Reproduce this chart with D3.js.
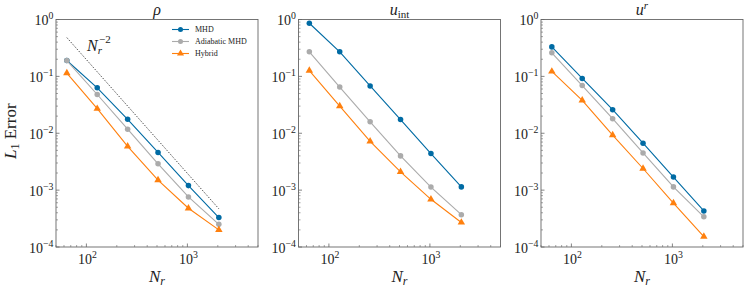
<!DOCTYPE html>
<html>
<head>
<meta charset="utf-8">
<script src="https://cdn.jsdelivr.net/npm/d3@7"></script>
<style>
  body { margin: 0; background: #fff; }
  text { font-family: "Liberation Serif", "DejaVu Serif", serif; fill: #222; }
</style>
</head>
<body>
<svg id="chart"></svg>
<script>
const W = 747, H = 289;

// resolution
const Nr = [64, 128, 256, 512, 1024, 2048];

// L1 errors, one array per panel and model
const rhoMHD   = [0.19, 0.063, 0.0176, 0.0046, 0.0012, 0.00033];
const rhoAdi   = [0.19, 0.048, 0.0118, 0.0029, 0.00076, 0.00025];
const rhoHyb   = [0.114, 0.027, 0.0059, 0.0015, 0.00048, 0.0002];

const uintMHD  = [0.86, 0.27, 0.068, 0.0174, 0.0044, 0.00114];
const uintAdi  = [0.27, 0.065, 0.0159, 0.004, 0.00113, 0.00037];
const uintHyb  = [0.126, 0.030, 0.0072, 0.0021, 0.00069, 0.00027];

const urMHD    = [0.33, 0.092, 0.026, 0.0067, 0.0017, 0.00043];
const urAdi    = [0.26, 0.069, 0.018, 0.0045, 0.00114, 0.00034];
const urHyb    = [0.122, 0.038, 0.0093, 0.0024, 0.00059, 0.000152];

// N_r^-2 guide line (first panel)
const guideNr = [64, 2048];
const guideC = 1970;

const seriesNames = ["MHD", "Adiabatic MHD", "Hybrid"];
const colors = ["#006BA4", "#ABABAB", "#FF800E"];
const markers = ["circle", "circle", "triangle"];

const xTicks = [100, 1000];
const yTicks = [1, 0.1, 0.01, 0.001, 0.0001];

const panels = [
    { title: "rho",  data: [rhoMHD, rhoAdi, rhoHyb] },
    { title: "uint", data: [uintMHD, uintAdi, uintHyb] },
    { title: "ur",   data: [urMHD, urAdi, urHyb] }
];

const lefts = [56, 298.5, 541];
const pw = 202, yTop = 19.5, yBot = 247;

const svg = d3.select("#chart").attr("width", W).attr("height", H);

const x = d3.scaleLog().domain([50, 5000]);
const y = d3.scaleLog().domain([1e-4, 1]).range([yBot, yTop]);

function minorTicks(lo, hi){
    let out = [];
    for (let e = Math.floor(Math.log10(lo)); e <= Math.ceil(Math.log10(hi)); e++){
        for (let m = 2; m <= 9; m++){
            let v = m * Math.pow(10, e);
            if (v >= lo && v <= hi) out.push(v);
        }
    }
    return out;
}

function powLabel(sel, exp, size){
    sel.append("tspan").text("10").attr("font-size", size);
    sel.append("tspan").text(exp).attr("font-size", size * 0.7).attr("dy", -size * 0.42);
}

panels.forEach((p, i) => {
    const x0 = lefts[i];
    const xs = x.copy().range([x0, x0 + pw]);
    const g = svg.append("g");
    const spineCol = "#666";

    // ticks (inward)
    xTicks.forEach(t => {
        g.append("line").attr("x1", xs(t)).attr("x2", xs(t))
            .attr("y1", yBot).attr("y2", yBot - 3.5)
            .attr("stroke", spineCol).attr("stroke-width", 0.8);
        let tx = g.append("text").attr("x", xs(t) + 1).attr("y", 263.5)
            .attr("text-anchor", "middle");
        powLabel(tx, String(Math.log10(t)), 14);
    });
    minorTicks(50, 5000).forEach(t => {
        g.append("line").attr("x1", xs(t)).attr("x2", xs(t))
            .attr("y1", yBot).attr("y2", yBot - 2)
            .attr("stroke", spineCol).attr("stroke-width", 0.6);
    });
    yTicks.forEach(t => {
        g.append("line").attr("x1", x0).attr("x2", x0 + 3.5)
            .attr("y1", y(t)).attr("y2", y(t))
            .attr("stroke", spineCol).attr("stroke-width", 0.8);
        let e = Math.round(Math.log10(t));
        let ty = g.append("text").attr("x", x0 - 2.5).attr("y", y(t) + 5.5)
            .attr("text-anchor", "end");
        powLabel(ty, e === 0 ? "0" : "\u2212" + (-e), 14);
    });
    minorTicks(1e-4, 1).forEach(t => {
        g.append("line").attr("x1", x0).attr("x2", x0 + 2)
            .attr("y1", y(t)).attr("y2", y(t))
            .attr("stroke", spineCol).attr("stroke-width", 0.6);
    });

    // frame
    g.append("rect").attr("x", x0).attr("y", yTop)
        .attr("width", pw).attr("height", yBot - yTop)
        .attr("fill", "none").attr("stroke", spineCol).attr("stroke-width", 0.9);

    // guide line
    if (i === 0) {
        g.append("line")
            .attr("x1", xs(guideNr[0])).attr("y1", y(guideC / guideNr[0] ** 2))
            .attr("x2", xs(guideNr[1])).attr("y2", y(guideC / guideNr[1] ** 2))
            .attr("stroke", "#222").attr("stroke-width", 0.8)
            .attr("stroke-dasharray", "1.5,1.5");
        let lab = g.append("text").attr("x", 87).attr("y", 51).attr("font-size", 16);
        lab.append("tspan").text("N").attr("font-style", "italic");
        lab.append("tspan").text("r").attr("font-style", "italic")
            .attr("font-size", 11).attr("dy", 3);
        lab.append("tspan").text("\u22122").attr("font-size", 11).attr("dx", -3).attr("dy", -11);
    }

    // series
    const line = d3.line().x((d, k) => xs(Nr[k])).y(d => y(d));
    p.data.forEach((vals, s) => {
        g.append("path").datum(vals).attr("d", line)
            .attr("fill", "none").attr("stroke", colors[s]).attr("stroke-width", 1.1);
        const sym = markers[s] === "triangle"
            ? d3.symbol(d3.symbolTriangle, 24)
            : d3.symbol(d3.symbolCircle, 24);
        g.selectAll(".m" + s).data(vals).enter().append("path")
            .attr("transform", (d, k) => `translate(${xs(Nr[k])},${y(d)})`)
            .attr("d", sym).attr("fill", colors[s]);
    });

    // titles
    const cx = x0 + pw / 2;
    const t = g.append("text").attr("x", cx).attr("y", 15)
        .attr("text-anchor", "middle").attr("font-size", 16);
    if (p.title === "rho") {
        t.append("tspan").text("\u03C1").attr("font-style", "italic");
    } else if (p.title === "uint") {
        t.append("tspan").text("u").attr("font-style", "italic");
        t.append("tspan").text("int").attr("font-size", 11).attr("dy", 3);
    } else {
        t.append("tspan").text("u").attr("font-style", "italic");
        t.append("tspan").text("r").attr("font-style", "italic")
            .attr("font-size", 11).attr("dy", -6);
    }

    // x label
    const xl = g.append("text").attr("x", cx).attr("y", 281.5)
        .attr("text-anchor", "middle").attr("font-size", 17);
    xl.append("tspan").text("N").attr("font-style", "italic");
    xl.append("tspan").text("r").attr("font-style", "italic")
        .attr("font-size", 12).attr("dy", 3);
});

// y label
const yl = svg.append("text")
    .attr("transform", `translate(16,${(yTop + yBot) / 2 - 2}) rotate(-90)`)
    .attr("text-anchor", "middle").attr("font-size", 17);
yl.append("tspan").text("L").attr("font-style", "italic");
yl.append("tspan").text("1").attr("font-size", 12).attr("dy", 3);
yl.append("tspan").text(" Error").attr("dy", -3);

// legend
const leg = svg.append("g");
seriesNames.forEach((name, s) => {
    const ly = 29.5 + s * 12;
    leg.append("line").attr("x1", 172).attr("x2", 189).attr("y1", ly).attr("y2", ly)
        .attr("stroke", colors[s]).attr("stroke-width", 1.1);
    const sym = markers[s] === "triangle"
        ? d3.symbol(d3.symbolTriangle, 22)
        : d3.symbol(d3.symbolCircle, 20);
    leg.append("path").attr("transform", `translate(180.5,${ly})`)
        .attr("d", sym).attr("fill", colors[s]);
    leg.append("text").attr("x", 195).attr("y", ly + 2.5)
        .attr("font-size", 8).text(name);
});
</script>
</body>
</html>
